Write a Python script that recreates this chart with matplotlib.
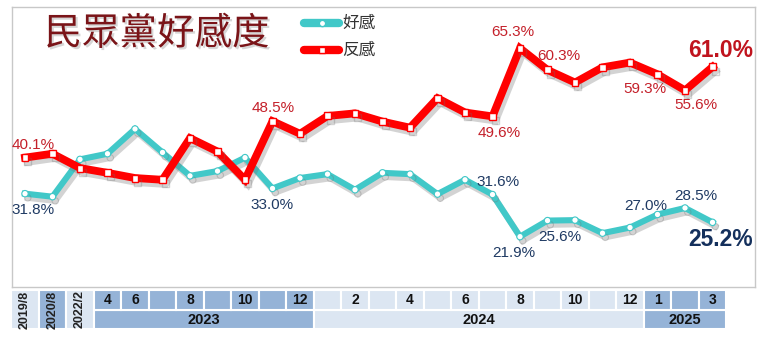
import matplotlib
matplotlib.use("Agg")
import matplotlib.pyplot as plt
import matplotlib.patheffects as pe
from matplotlib.patches import Rectangle
from matplotlib.lines import Line2D

plt.rcParams['font.family'] = ['Noto Sans CJK TC', 'DejaVu Sans']

# ---------------- data ----------------
periods = ['2019/8', '2020/8', '2022/2',
           '2023/4', '2023/6', '2023/7', '2023/8', '2023/9', '2023/10', '2023/11', '2023/12',
           '2024/1', '2024/2', '2024/3', '2024/4', '2024/5', '2024/6', '2024/7', '2024/8',
           '2024/9', '2024/10', '2024/11', '2024/12',
           '2025/1', '2025/2', '2025/3']
favorable = [31.8, 31.1, 39.7, 41.0, 46.7, 41.3, 35.9, 37.0, 40.1, 33.0, 35.4, 36.3, 32.7,
             36.6, 36.3, 31.7, 35.0, 31.6, 21.9, 25.6, 25.7, 22.7, 24.0, 27.0, 28.5, 25.2]
unfavorable = [40.1, 41.0, 37.7, 36.6, 35.4, 35.0, 44.6, 41.5, 35.0, 48.5, 45.6, 49.7, 50.3,
               48.4, 47.0, 53.8, 50.5, 49.6, 65.3, 60.3, 57.4, 60.9, 62.0, 59.3, 55.6, 61.0]
early_labels = ['2019/8', '2020/8', '2022/2']
month_labels = ['4', '6', '', '8', '', '10', '', '12',
                '', '2', '', '4', '', '6', '', '8', '', '10', '', '12',
                '1', '', '3']
years = ['2023', '2024', '2025']
year_counts = [8, 12, 3]
title = '民眾黨好感度'
legend_names = ['好感', '反感']

# labelled points: index -> (dx, dy) offset in pixels (layout only)
fav_label_offsets = {0: (8, -16), 9: (0, -17), 17: (6, 13), 18: (-6, -16),
                     19: (12, -16), 23: (-12, 9), 24: (11, 12)}
unf_label_offsets = {0: (8, 13), 9: (1, 13), 17: (7, -17), 18: (-7, 16),
                     19: (11, 14), 23: (-13, -15), 24: (11, -15)}

# ---------------- style ----------------
W, H = 763, 339
RED = '#ff0000'
TEAL = '#41c8c8'
RED_TXT = '#c4202a'
BLUE_TXT = '#1f3a63'
DARK_CELL = '#95b3d7'
LIGHT_CELL = '#dce6f2'
LAB = ['Liberation Sans', 'DejaVu Sans']

fig = plt.figure(figsize=(W / 100, H / 100), dpi=100)
ax = fig.add_axes([12 / W, 1 - 287 / H, 743 / W, 280 / H])
xlim = (-0.4727, 26.545)
ax.set_xlim(*xlim)
ax.set_ylim(10.3, 74.8)
ax.set_xticks([])
ax.set_yticks([])
for s in ax.spines.values():
    s.set_color('#c8c8c8')
    s.set_linewidth(1.0)

x = list(range(len(periods)))
shadow = [pe.SimpleLineShadow(offset=(2, -3), shadow_color='#707070', alpha=0.3), pe.Normal()]
ax.plot(x, favorable, color=TEAL, lw=4.4, marker='o', ms=4.6, mfc='white', mec=TEAL,
        mew=0.8, zorder=3, path_effects=shadow, solid_joinstyle='miter')
ax.plot(x, unfavorable, color=RED, lw=5.6, marker='s', ms=5.0, mfc='white', mec=RED,
        mew=1.0, zorder=4, path_effects=shadow, solid_joinstyle='miter')

for i, (dx, dy) in fav_label_offsets.items():
    ax.annotate(f'{favorable[i]:.1f}%', (i, favorable[i]), xytext=(dx, dy),
                textcoords='offset pixels', ha='center', va='center',
                fontsize=11, color=BLUE_TXT, family=LAB, zorder=6)
for i, (dx, dy) in unf_label_offsets.items():
    ax.annotate(f'{unfavorable[i]:.1f}%', (i, unfavorable[i]), xytext=(dx, dy),
                textcoords='offset pixels', ha='center', va='center',
                fontsize=11, color=RED_TXT, family=LAB, zorder=6)
last = len(periods) - 1
ax.annotate(f'{unfavorable[last]:.1f}%', (last, unfavorable[last]), xytext=(8, 16),
            textcoords='offset pixels', ha='center', va='center', fontsize=16.5,
            fontweight='bold', color='#c0141e', family=LAB, zorder=6)
ax.annotate(f'{favorable[last]:.1f}%', (last, favorable[last]), xytext=(8, -17),
            textcoords='offset pixels', ha='center', va='center', fontsize=16.5,
            fontweight='bold', color='#14305c', family=LAB, zorder=6)

# title
fig.text(157 / W, 1 - 34 / H, title, ha='center', va='center', fontsize=27,
         fontweight='medium', color='#7a1418',
         path_effects=[pe.withSimplePatchShadow(offset=(1.5, -1.5), shadow_rgbFace='#999999', alpha=0.4)])

# legend
for j, (name, col, mk) in enumerate([(legend_names[0], TEAL, 'o'), (legend_names[1], RED, 's')]):
    yy = 1 - (23 + 27 * j) / H
    fig.add_artist(Line2D([304 / W, 339 / W], [yy, yy], color=col, lw=6,
                          solid_capstyle='round', transform=fig.transFigure))
    fig.add_artist(Line2D([321.5 / W], [yy], marker=mk, ms=4.5, mfc='white', mec=col,
                          transform=fig.transFigure))
    fig.text(342 / W, yy, name, ha='left', va='center', fontsize=12, color='#333333')

# table axis
tax = fig.add_axes([12 / W, 1 - 329 / H, 743 / W, 39 / H])
tax.set_xlim(*xlim)
tax.set_ylim(0, 2)
tax.axis('off')

early_colors = [LIGHT_CELL, DARK_CELL, LIGHT_CELL]
for i, lab in enumerate(early_labels):
    tax.add_patch(Rectangle((i - 0.5, 0), 1, 2, facecolor=early_colors[i], edgecolor='white', lw=1.5))
    tax.text(i, 1, lab, rotation=90, ha='center', va='center', fontsize=9,
             fontweight='bold', family=LAB, color='#222222')

year_colors = [DARK_CELL, LIGHT_CELL, DARK_CELL]
start = len(early_labels)
k = 0
for y, n, c in zip(years, year_counts, year_colors):
    tax.add_patch(Rectangle((start - 0.5, 0), n, 1, facecolor=c, edgecolor='white', lw=1.5))
    tax.text(start - 0.5 + n / 2, 0.48, y, ha='center', va='center', fontsize=10.5,
             fontweight='bold', family=LAB, color='#111111')
    for m in range(n):
        xi = start + m
        tax.add_patch(Rectangle((xi - 0.5, 1), 1, 1, facecolor=c, edgecolor='white', lw=1.5))
        tax.text(xi, 1.5, month_labels[k], ha='center', va='center', fontsize=10,
                 fontweight='bold', family=LAB, color='#111111')
        k += 1
    start += n

fig.savefig('out.png', dpi=100, facecolor='white')
